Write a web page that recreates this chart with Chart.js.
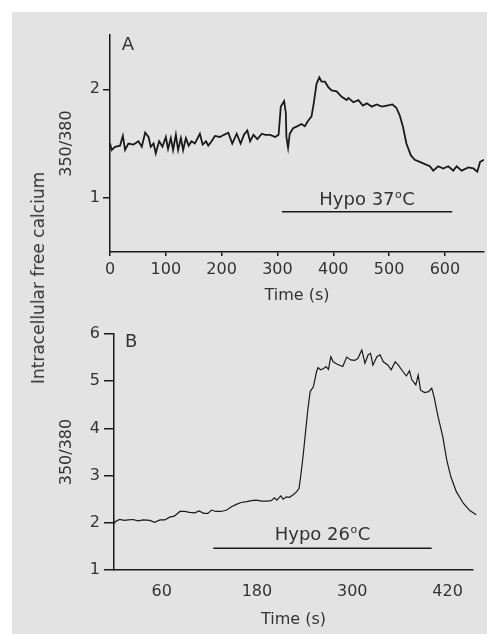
<!DOCTYPE html>
<html>
<head>
<meta charset="utf-8">
<title>Intracellular free calcium</title>
<script src="https://cdn.jsdelivr.net/npm/chart.js@4/dist/chart.umd.min.js"></script>
<style>
  html, body { margin: 0; padding: 0; background: #fff; }
  body { width: 487px; height: 634px; position: relative; overflow: hidden; font-family: 'DejaVu Sans', sans-serif; }
  #panel { position: absolute; left: 12px; top: 12px; right: 0; bottom: 0; background: #e3e3e3; }
  canvas { position: absolute; left: 0; }
  #chartA { top: 0; }
  #chartB { top: 310px; }
  #sideLabel { position: absolute; left: 38px; top: 278px; transform: translate(-50%, -50%) rotate(-90deg);
               white-space: nowrap; font-size: 17px; color: #333; }
</style>
</head>
<body>
<div id="panel"></div>
<canvas id="chartA" width="487" height="310"></canvas>
<canvas id="chartB" width="487" height="324"></canvas>
<div id="sideLabel">Intracellular free calcium</div>

<script>
// ---- panel A : hypo 37 C ----
const timeA = [0, 3, 9, 18, 23, 27, 33, 42, 51, 57, 63, 69, 73, 78, 82, 88, 94, 100, 104, 109, 113, 118, 122, 127, 131, 136, 141, 146, 152, 157, 161, 166, 172, 176, 182, 188, 197, 204, 212, 219, 227, 234, 240, 246, 251, 257, 264, 272, 278, 287, 296, 302, 306, 312, 315, 316, 319, 322, 328, 336, 343, 349, 355, 361, 365, 370, 375, 379, 385, 391, 397, 406, 415, 424, 427, 436, 445, 453, 460, 469, 478, 487, 496, 506, 513, 519, 525, 531, 539, 546, 555, 564, 573, 579, 588, 597, 606, 615, 621, 630, 642, 651, 658, 663, 670];
const ratioA = [1.50, 1.44, 1.47, 1.48, 1.57, 1.44, 1.50, 1.49, 1.52, 1.47, 1.60, 1.56, 1.47, 1.50, 1.41, 1.52, 1.47, 1.56, 1.45, 1.55, 1.44, 1.58, 1.44, 1.55, 1.44, 1.55, 1.48, 1.52, 1.50, 1.55, 1.59, 1.49, 1.52, 1.48, 1.52, 1.57, 1.56, 1.58, 1.60, 1.50, 1.59, 1.50, 1.58, 1.62, 1.52, 1.58, 1.54, 1.59, 1.58, 1.58, 1.56, 1.58, 1.84, 1.89, 1.78, 1.56, 1.46, 1.59, 1.64, 1.66, 1.68, 1.66, 1.71, 1.75, 1.87, 2.05, 2.11, 2.07, 2.07, 2.02, 1.99, 1.98, 1.93, 1.90, 1.92, 1.88, 1.90, 1.85, 1.87, 1.84, 1.86, 1.84, 1.85, 1.86, 1.83, 1.76, 1.65, 1.50, 1.39, 1.35, 1.33, 1.31, 1.29, 1.25, 1.29, 1.27, 1.29, 1.25, 1.29, 1.25, 1.28, 1.27, 1.24, 1.33, 1.35];
const hypoA = [308, 613];
const hypoLevelA = 0.87;
const ticksXA = [0, 100, 200, 300, 400, 500, 600];
const ticksYA = [1, 2];

// ---- panel B : hypo 26 C ----
const timeB = [0, 1, 7, 13, 18, 24, 30, 37, 45, 51, 58, 64, 70, 76, 83, 89, 95, 102, 107, 113, 118, 123, 128, 135, 142, 148, 154, 160, 167, 173, 179, 186, 192, 198, 202, 205, 210, 213, 217, 221, 226, 230, 233, 235, 238, 241, 244, 247, 251, 255, 257, 260, 264, 267, 270, 273, 276, 281, 288, 293, 298, 303, 307, 312, 316, 320, 323, 326, 331, 335, 339, 345, 349, 354, 358, 364, 368, 372, 375, 380, 383, 386, 391, 396, 400, 403, 408, 414, 419, 424, 431, 440, 448, 456];
const ratioB = [1.99, 2.02, 2.07, 2.05, 2.06, 2.07, 2.04, 2.06, 2.05, 2.01, 2.06, 2.06, 2.12, 2.14, 2.24, 2.24, 2.22, 2.21, 2.25, 2.20, 2.20, 2.27, 2.24, 2.24, 2.27, 2.34, 2.39, 2.43, 2.45, 2.47, 2.48, 2.46, 2.46, 2.47, 2.53, 2.48, 2.57, 2.50, 2.55, 2.54, 2.60, 2.66, 2.73, 2.98, 3.40, 3.90, 4.39, 4.78, 4.88, 5.20, 5.29, 5.24, 5.27, 5.31, 5.25, 5.52, 5.41, 5.36, 5.31, 5.51, 5.45, 5.44, 5.48, 5.66, 5.38, 5.56, 5.59, 5.34, 5.52, 5.56, 5.41, 5.34, 5.24, 5.41, 5.34, 5.20, 5.11, 5.22, 5.03, 4.92, 5.13, 4.81, 4.76, 4.78, 4.85, 4.67, 4.25, 3.82, 3.33, 2.98, 2.66, 2.41, 2.26, 2.17];
const hypoB = [125, 400];
const hypoLevelB = 1.46;
const ticksXB = [60, 180, 300, 420];
const ticksYB = [1, 2, 3, 4, 5, 6];

const INK = '#1a1a1a';
const TEXT = '#333';
Chart.defaults.font.family = "'DejaVu Sans', sans-serif";
Chart.defaults.font.size = 16;
Chart.defaults.color = TEXT;

const toPoints = (xs, ys) => xs.map((x, i) => ({ x: x, y: ys[i] }));

// panel letter + "Hypo xxoC" label, placed with the chart's own scales
function notesPlugin(letter, letterAt, temp, bar, barLevel, textLevel) {
    return {
        id: 'notes',
        afterDatasetsDraw(chart) {
            const { ctx, scales: { x, y } } = chart;
            ctx.save();
            ctx.fillStyle = TEXT;
            ctx.textBaseline = 'alphabetic';
            ctx.font = "18px 'DejaVu Sans'";
            ctx.fillText(letter, x.getPixelForValue(letterAt[0]), y.getPixelForValue(letterAt[1]));

            const big = "18px 'DejaVu Sans'", small = "11px 'DejaVu Sans'";
            const main = 'Hypo ' + temp;
            ctx.font = big;
            const w1 = ctx.measureText(main).width;
            const w3 = ctx.measureText('C').width;
            ctx.font = small;
            const w2 = ctx.measureText('o').width + 1;
            const cx = x.getPixelForValue((bar[0] + bar[1]) / 2);
            const by = y.getPixelForValue(textLevel);
            let sx = cx - (w1 + w2 + w3) / 2;
            ctx.font = big;
            ctx.fillText(main, sx, by);
            ctx.font = small;
            ctx.fillText('o', sx + w1 + 0.5, by - 6.5);
            ctx.font = big;
            ctx.fillText('C', sx + w1 + w2, by);
            ctx.restore();
        }
    };
}

function axisStyle(tickLen, showTickMarks) {
    return {
        grid: { display: showTickMarks, drawOnChartArea: false, drawTicks: true, tickLength: tickLen, color: INK, lineWidth: 1.5 },
        border: { display: true, color: INK, width: 1.5 }
    };
}

// ---- chart A ----
new Chart(document.getElementById('chartA'), {
    type: 'line',
    data: {
        datasets: [
            { data: toPoints(timeA, ratioA), borderColor: INK, borderWidth: 1.8, pointRadius: 0, tension: 0 },
            { data: toPoints(hypoA, [hypoLevelA, hypoLevelA]), borderColor: INK, borderWidth: 1.5, pointRadius: 0 }
        ]
    },
    options: {
        responsive: false, animation: false, events: [],
        layout: { padding: { left: 50, right: 3, top: 35, bottom: 0 } },
        plugins: { legend: { display: false }, tooltip: { enabled: false } },
        scales: {
            x: {
                type: 'linear', min: 0, max: 670,
                ...axisStyle(4, true),
                afterBuildTicks: s => { s.ticks = ticksXA.map(v => ({ value: v })); },
                afterFit: s => { s.height = 58; },
                ticks: { padding: 4, maxRotation: 0, autoSkip: false },
                title: { display: true, text: 'Time (s)', padding: { top: 0, bottom: 5 } }
            },
            y: {
                min: 0.5, max: 2.5,
                ...axisStyle(7, true),
                afterBuildTicks: s => { s.ticks = ticksYA.map(v => ({ value: v })); },
                afterFit: s => { s.width = 60; },
                ticks: { padding: 3 },
                title: { display: true, text: '350/380', padding: { top: 7, bottom: 0 } }
            }
        }
    },
    plugins: [notesPlugin('A', [21, 2.36], '37', hypoA, hypoLevelA, 0.936)]
});

// ---- chart B ----
new Chart(document.getElementById('chartB'), {
    type: 'line',
    data: {
        datasets: [
            { data: toPoints(timeB, ratioB), borderColor: INK, borderWidth: 1.2, pointRadius: 0, tension: 0, clip: false },
            { data: toPoints(hypoB, [hypoLevelB, hypoLevelB]), borderColor: INK, borderWidth: 1.5, pointRadius: 0 }
        ]
    },
    options: {
        responsive: false, animation: false, events: [],
        layout: { padding: { left: 50, right: 14, top: 24, bottom: 0 } },
        plugins: { legend: { display: false }, tooltip: { enabled: false } },
        scales: {
            x: {
                type: 'linear', min: 0, max: 452,
                ...axisStyle(8, false),
                afterBuildTicks: s => { s.ticks = ticksXB.map(v => ({ value: v })); },
                afterFit: s => { s.height = 64; },
                ticks: { padding: 4, maxRotation: 0, autoSkip: false },
                title: { display: true, text: 'Time (s)', padding: { top: 0, bottom: 5 } }
            },
            y: {
                min: 1, max: 6,
                ...axisStyle(10, true),
                afterBuildTicks: s => { s.ticks = ticksYB.map(v => ({ value: v })); },
                afterFit: s => { s.width = 64; },
                ticks: { padding: 4 },
                title: { display: true, text: '350/380', padding: { top: 7, bottom: 0 } }
            }
        }
    },
    plugins: [notesPlugin('B', [14, 5.72], '26', hypoB, hypoLevelB, 1.64)]
});
</script>
</body>
</html>
